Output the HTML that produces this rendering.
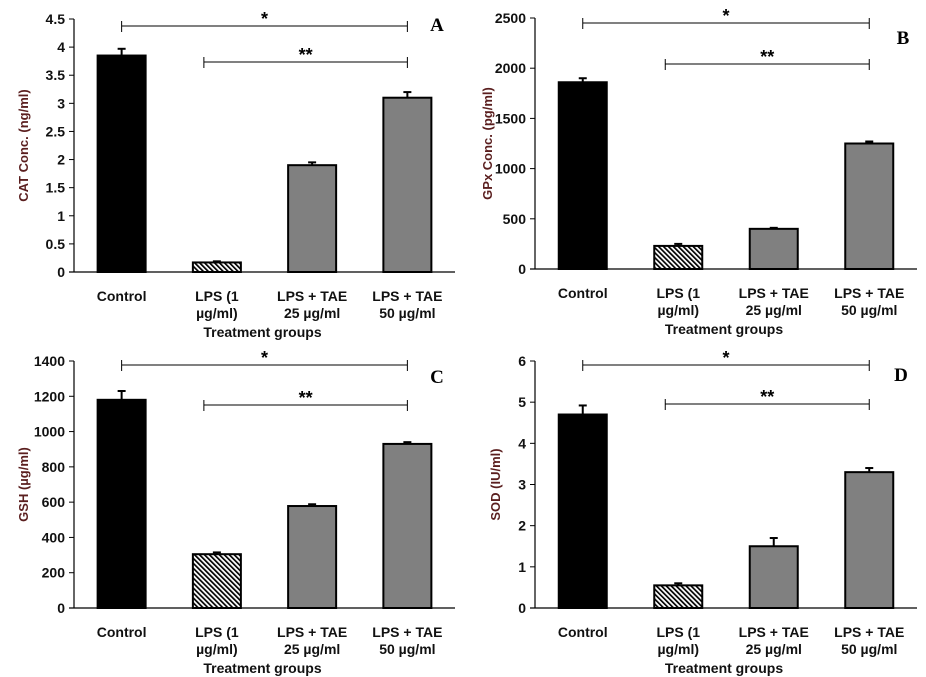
<!DOCTYPE html>
<html><head><meta charset="utf-8"><style>
body{margin:0;background:#fff;}
svg{display:block;font-family:"Liberation Sans",Arial,sans-serif;}
</style></head><body>
<svg id="fig" width="926" height="677"></svg>
<script>
const categories = ["Control","LPS (1|µg/ml)","LPS + TAE|25 µg/ml","LPS + TAE|50 µg/ml"];
const catValues = [3.85, 0.17, 1.9, 3.1];
const catErrors = [0.12, 0.02, 0.05, 0.1];
const catTicks = [0,0.5,1,1.5,2,2.5,3,3.5,4,4.5];
const gpxValues = [1860, 230, 400, 1250];
const gpxErrors = [40, 20, 10, 20];
const gpxTicks = [0,500,1000,1500,2000,2500];
const gshValues = [1180, 305, 578, 930];
const gshErrors = [50, 10, 10, 10];
const gshTicks = [0,200,400,600,800,1000,1200,1400];
const sodValues = [4.7, 0.55, 1.5, 3.3];
const sodErrors = [0.22, 0.05, 0.2, 0.1];
const sodTicks = [0,1,2,3,4,5,6];

const NS="http://www.w3.org/2000/svg";
const svg=document.getElementById('fig');
const defs=document.createElementNS(NS,'defs');
defs.innerHTML='<pattern id="hatch" width="3.5" height="3.5" patternUnits="userSpaceOnUse" patternTransform="rotate(-45)"><rect width="3.5" height="3.5" fill="#fff"/><rect width="1.7" height="3.5" fill="#000"/></pattern>';
svg.appendChild(defs);
function el(tag,attrs,parent,text){const e=document.createElementNS(NS,tag);for(const k in attrs)e.setAttribute(k,attrs[k]);if(text!==undefined)e.textContent=text;(parent||svg).appendChild(e);return e;}

const panels=[
 {id:'a',letter:'A',title:'CAT Conc. (ng/ml)',vals:catValues,errs:catErrors,ticks:catTicks,x0:74,x1:455,yTop:19,yBot:272,titleX:28,s1:26,s2:62,letterX:437,letterY:31},
 {id:'b',letter:'B',title:'GPx Conc. (pg/ml)',vals:gpxValues,errs:gpxErrors,ticks:gpxTicks,x0:535,x1:917,yTop:18,yBot:269,titleX:492,s1:23,s2:64,letterX:903,letterY:44},
 {id:'c',letter:'C',title:'GSH (µg/ml)',vals:gshValues,errs:gshErrors,ticks:gshTicks,x0:74,x1:455,yTop:361,yBot:608,titleX:28,s1:365,s2:405,letterX:437,letterY:383},
 {id:'d',letter:'D',title:'SOD (IU/ml)',vals:sodValues,errs:sodErrors,ticks:sodTicks,x0:535,x1:917,yTop:361,yBot:608,titleX:500,s1:365,s2:404,letterX:901,letterY:381}
];
const fills=['#000','url(#hatch)','#808080','#808080'];

panels.forEach(p=>{
 const g=el('g',{});
 
 
 const max=p.ticks[p.ticks.length-1];
 const y=v=>p.yBot-(v/max)*(p.yBot-p.yTop);
 const step=(p.x1-p.x0)/categories.length;
 const cx=i=>p.x0+step*(i+0.5);
 const ax=el('line',{x1:p.x0,y1:p.yTop,x2:p.x0,y2:p.yBot,stroke:'#000','stroke-width':1.2},g);
 
 const bx=el('line',{x1:p.x0-5,y1:p.yBot,x2:p.x1,y2:p.yBot,stroke:'#000','stroke-width':1.2},g);
 
 p.ticks.forEach(t=>{
  el('line',{x1:p.x0-5,y1:y(t),x2:p.x0,y2:y(t),stroke:'#000'},g);
  const tl=el('text',{x:p.x0-9,y:y(t)+5,'text-anchor':'end','font-size':14,'font-weight':'bold',fill:'#111'},g,String(t));
  
 });
 const yt=el('text',{x:p.titleX,y:(p.yTop+p.yBot)/2,'text-anchor':'middle','font-size':13,'font-weight':'bold',fill:'#5a1e1e',transform:`rotate(-90 ${p.titleX} ${(p.yTop+p.yBot)/2})`},g,p.title);
 
 p.vals.forEach((v,i)=>{
  const bw=48;
  const e=p.errs[i];
  el('line',{x1:cx(i),y1:y(v),x2:cx(i),y2:y(v+e),stroke:'#000','stroke-width':2},g);
  el('line',{x1:cx(i)-4,y1:y(v+e),x2:cx(i)+4,y2:y(v+e),stroke:'#000','stroke-width':2},g);
  const r=el('rect',{x:cx(i)-bw/2,y:y(v),width:bw,height:p.yBot-y(v),fill:fills[i],stroke:'#000','stroke-width':2},g);
  
  const lines=categories[i].split('|');
  const ct=el('text',{x:cx(i),y:p.yBot+29,'text-anchor':'middle','font-size':14,'font-weight':'bold',fill:'#111'},g);
  
  lines.forEach((s,k)=>el('tspan',{x:cx(i),dy:k?17:0},ct,s));
 });
 const xt=el('text',{x:(cx(1)+cx(2))/2-2,y:p.yBot+65,'text-anchor':'middle','font-size':14,'font-weight':'bold',fill:'#111'},g,'Treatment groups');
 
 const a=cx(0),b=cx(3),c=cx(1)-13;
 const s1=el('g',{},g);
 el('line',{x1:a,y1:p.s1,x2:b,y2:p.s1,stroke:'#000'},s1);
 el('line',{x1:a,y1:p.s1-5,x2:a,y2:p.s1+6,stroke:'#000'},s1);
 el('line',{x1:b,y1:p.s1-5,x2:b,y2:p.s1+6,stroke:'#000'},s1);
 el('text',{x:(a+b)/2,y:p.s1-1,'text-anchor':'middle','font-size':18,'font-weight':'bold'},s1,'*');
 const s2=el('g',{},g);
 el('line',{x1:c,y1:p.s2,x2:b,y2:p.s2,stroke:'#000'},s2);
 el('line',{x1:c,y1:p.s2-5,x2:c,y2:p.s2+6,stroke:'#000'},s2);
 el('line',{x1:b,y1:p.s2-5,x2:b,y2:p.s2+6,stroke:'#000'},s2);
 el('text',{x:(c+b)/2,y:p.s2-1,'text-anchor':'middle','font-size':18,'font-weight':'bold'},s2,'**');
 const L=el('text',{x:p.letterX,y:p.letterY,'text-anchor':'middle','font-size':19,'font-weight':'bold','font-family':'"Liberation Serif",serif'},g,p.letter);
 
});
</script>
</body></html>
